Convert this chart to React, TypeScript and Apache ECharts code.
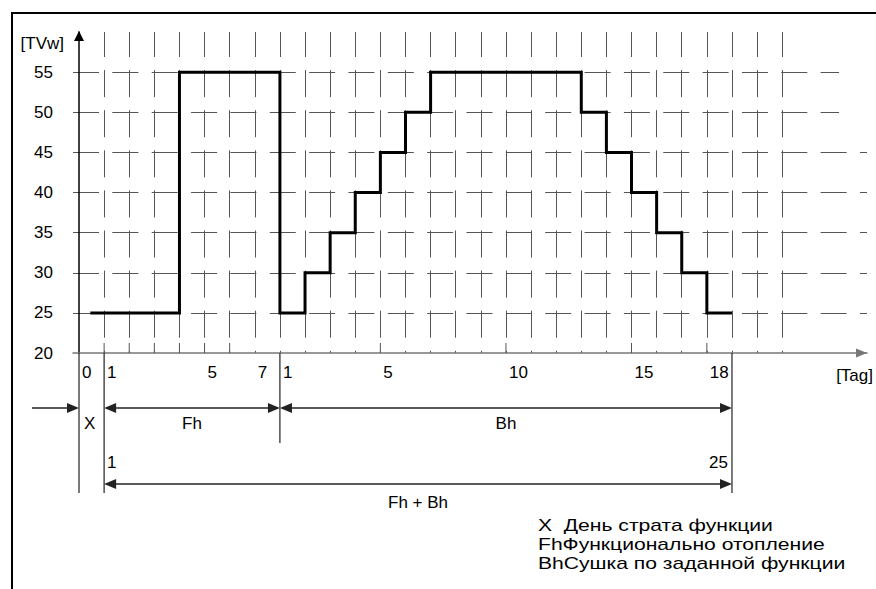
import React, { useEffect, useRef } from 'react';
import * as echarts from 'echarts';

// ---- data ----
const tempTicks = [20, 25, 30, 35, 40, 45, 50, 55];
const stepDays = [0.45, 4, 8, 9, 10, 11, 12, 13, 14, 20, 21, 22, 23, 24, 25, 26];
const stepTemps = [25, 55, 25, 30, 35, 40, 45, 50, 55, 50, 45, 40, 35, 30, 25, 25];
const labelDays = [0, 1, 5, 7, 8, 12, 17, 22, 25];
const labelTexts = ['0', '1', '5', '7', '1', '5', '10', '15', '18'];
const tickMarkDays = [1, 2, 3, 4, 5, 6, 12, 17, 22, 25];
const boundaryDays = [0, 1, 8, 26];
const spanNames = ['X', 'Fh', 'Bh', 'Fh + Bh'];
const spanStart = [0, 1, 8, 1];
const spanEnd = [1, 8, 26, 26];
const spanRow = [0, 0, 0, 1];
const totalEndLabels = ['1', '25'];
const legendLines = [
  'X  День страта функции',
  'FhФункционально отопление',
  'BhСушка по заданной функции',
];

const FONT = '"Liberation Sans", Arial, sans-serif';
const GRID = '#555';
const INK = '#222';
const NONE = 'rgba(0,0,0,0)';

function hLineAxis(gridIndex: number, colors: string[]): any {
  return {
    gridIndex,
    type: 'value',
    min: 20,
    max: 60,
    interval: 5,
    axisLine: { show: false },
    axisTick: { show: false },
    axisLabel: { show: false },
    splitLine: {
      show: true,
      showMinLine: false,
      showMaxLine: false,
      lineStyle: { color: colors, width: 1, type: [26, 13.35] },
    },
  };
}

function hiddenX(gridIndex: number): any {
  return {
    gridIndex,
    type: 'value',
    min: 0,
    max: 1,
    axisLine: { show: false },
    axisTick: { show: false },
    axisLabel: { show: false },
    splitLine: { show: false },
  };
}

function buildOption(): any {
  return {
    animation: false,
    backgroundColor: '#fff',
    textStyle: { fontFamily: FONT },
    grid: [
      { left: 79, right: 93.8, top: 32, bottom: 236 },
      { left: 73, right: 6, top: 32, bottom: 236 },
      { left: 73, right: 37, top: 32, bottom: 236 },
    ],
    xAxis: [
      {
        gridIndex: 0,
        type: 'value',
        min: 0,
        max: 28,
        interval: 1,
        axisLine: { show: false },
        axisTick: { show: false },
        axisLabel: {
          formatter: (v: number) => {
            const i = labelDays.indexOf(v);
            return i >= 0 ? labelTexts[i] : '';
          },
          align: 'left',
          padding: [0, 0, 0, 3],
          margin: 11,
          fontSize: 17,
          color: '#000',
          fontFamily: FONT,
        },
        splitLine: {
          show: true,
          showMinLine: false,
          lineStyle: { color: GRID, width: 1, type: [27, 13.1], dashOffset: 2 },
        },
      },
      {
        gridIndex: 1,
        type: 'value',
        min: 0,
        max: 1,
        axisLine: {
          show: true,
          symbol: ['none', 'triangle'],
          symbolSize: [9, 11],
          symbolOffset: [0, -5.5],
          lineStyle: { color: '#777', width: 1.5 },
        },
        axisTick: { show: false },
        axisLabel: { show: false },
        splitLine: { show: false },
        name: '[Tag]',
        nameLocation: 'end',
        nameGap: 6,
        nameTextStyle: {
          align: 'right',
          verticalAlign: 'top',
          padding: [12, 0, 0, 0],
          lineHeight: 20,
          fontSize: 17,
          color: '#000',
          fontFamily: FONT,
        },
      },
      hiddenX(2),
    ],
    yAxis: [
      {
        gridIndex: 0,
        type: 'value',
        min: 20,
        max: 60,
        interval: 5,
        axisLine: {
          show: true,
          symbol: ['none', 'triangle'],
          symbolSize: [10, 10],
          symbolOffset: [0, -4],
          lineStyle: { color: '#000', width: 1.5 },
        },
        axisTick: { show: false },
        axisLabel: {
          formatter: (v: number) => (tempTicks.indexOf(v) >= 0 ? String(v) : ''),
          fontSize: 17,
          color: '#000',
          margin: 26,
          fontFamily: FONT,
        },
        splitLine: { show: false },
        name: '[TVw]',
        nameLocation: 'end',
        nameGap: -11,
        nameTextStyle: {
          align: 'right',
          verticalAlign: 'middle',
          padding: [0, 15, 0, 0],
          fontSize: 17,
          color: '#000',
          fontFamily: FONT,
        },
      },
      // rows 25..45 run out to the arrow, rows 50 and 55 stop earlier
      hLineAxis(1, [GRID, GRID, GRID, GRID, GRID, NONE, NONE]),
      hLineAxis(2, [NONE, NONE, NONE, NONE, NONE, GRID, GRID]),
    ],
    series: [
      {
        type: 'line',
        xAxisIndex: 0,
        yAxisIndex: 0,
        data: stepDays.map((d, i) => [d, stepTemps[i]]),
        step: 'end',
        symbol: 'none',
        lineStyle: { color: '#000', width: 3, join: 'miter' },
        z: 10,
        silent: true,
      },
      {
        type: 'custom',
        xAxisIndex: 0,
        yAxisIndex: 0,
        silent: true,
        data: tickMarkDays.map((d) => [d, 20]),
        renderItem: (_p: any, api: any) => {
          const pt = api.coord([api.value(0), 20]);
          return {
            type: 'line',
            shape: { x1: pt[0], y1: pt[1], x2: pt[0], y2: pt[1] - 10 },
            style: { stroke: GRID, lineWidth: 1 },
          };
        },
      },
      {
        type: 'custom',
        xAxisIndex: 0,
        yAxisIndex: 0,
        silent: true,
        data: boundaryDays.map((d) => [d, 20]),
        renderItem: (_p: any, api: any) => {
          const d = api.value(0);
          const pt = api.coord([d, 20]);
          const depth = d === 8 ? 90 : 140;
          return {
            type: 'line',
            shape: { x1: pt[0], y1: pt[1], x2: pt[0], y2: pt[1] + depth },
            style: { stroke: INK, lineWidth: 1.2 },
          };
        },
      },
      {
        type: 'custom',
        xAxisIndex: 0,
        yAxisIndex: 0,
        silent: true,
        data: spanStart.map((s, i) => [s, 20, spanEnd[i], spanRow[i]]),
        renderItem: (params: any, api: any) => {
          const i = params.dataIndex;
          const a = api.coord([api.value(0), 20]);
          const b = api.coord([api.value(2), 20]);
          const row = api.value(3);
          const y = a[1] + (row === 0 ? 55 : 131);
          const head = (x: number, dir: number) => ({
            type: 'polygon',
            shape: { points: [[x, y], [x - dir * 12, y - 5], [x - dir * 12, y + 5]] },
            style: { fill: INK },
          });
          const txt = (x: number, yy: number, text: string, align: string) => ({
            type: 'text',
            x,
            y: yy,
            style: { text, fontSize: 17, fontFamily: FONT, fill: '#000', align, verticalAlign: 'middle' },
          });
          const children: any[] = [];
          if (i === 0) {
            children.push({
              type: 'line',
              shape: { x1: a[0] - 47, y1: y, x2: a[0] - 10, y2: y },
              style: { stroke: INK, lineWidth: 1.5 },
            });
            children.push(head(a[0], 1));
          } else {
            children.push({
              type: 'line',
              shape: { x1: a[0] + 10, y1: y, x2: b[0] - 10, y2: y },
              style: { stroke: INK, lineWidth: 1.5 },
            });
            children.push(head(a[0], -1));
            children.push(head(b[0], 1));
          }
          const mid = (a[0] + b[0]) / 2 - (i === 0 ? 2 : 0);
          children.push(txt(mid, y + (row === 0 ? 15 : 18), spanNames[i], 'center'));
          if (row === 1) {
            children.push(txt(a[0] + 3, y - 22, totalEndLabels[0], 'left'));
            children.push(txt(b[0] - 4, y - 22, totalEndLabels[1], 'right'));
          }
          return { type: 'group', children };
        },
      },
    ],
    graphic: [
      {
        type: 'line',
        shape: { x1: 11, y1: 13, x2: 876, y2: 13 },
        style: { stroke: '#000', lineWidth: 2 },
      },
      {
        type: 'line',
        shape: { x1: 12, y1: 12, x2: 12, y2: 589 },
        style: { stroke: '#000', lineWidth: 2 },
      },
      {
        type: 'text',
        x: 538,
        y: 515.5,
        scaleX: 1.32,
        style: {
          text: legendLines.join('\n'),
          fontSize: 16,
          lineHeight: 19,
          fontFamily: FONT,
          fill: '#000',
        },
      },
    ],
  };
}

export default function App() {
  const ref = useRef<HTMLDivElement>(null);
  useEffect(() => {
    document.body.style.margin = '0';
    const chart = echarts.init(ref.current as HTMLDivElement, null, { renderer: 'svg' });
    chart.setOption(buildOption());
    return () => chart.dispose();
  }, []);
  return <div ref={ref} style={{ width: 876, height: 589 }} />;
}
